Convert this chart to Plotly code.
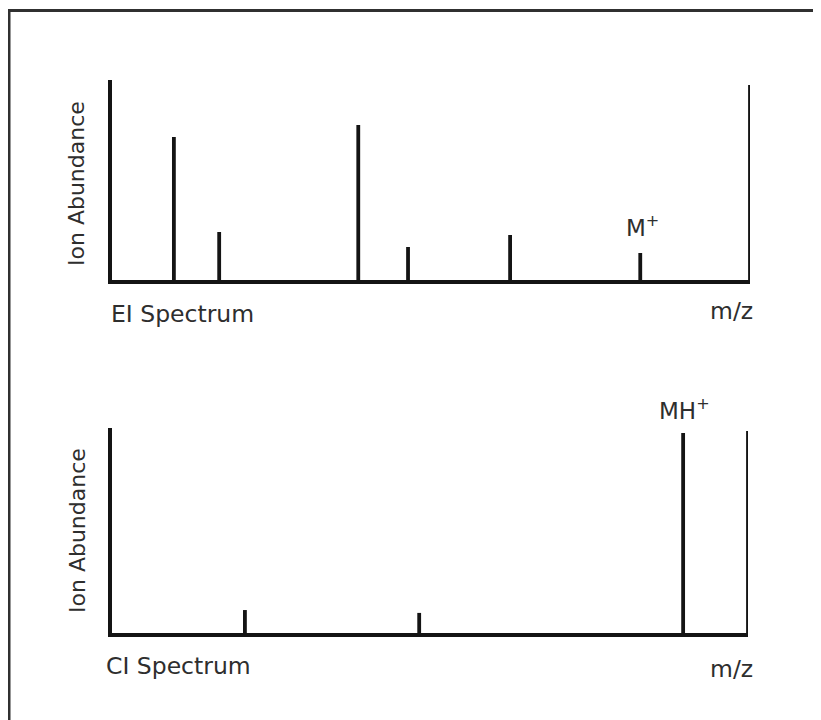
import plotly.graph_objects as go

# page has an 8px body margin; figure sized so it ends at the window edge
OFF = 8
W, H = 821 - OFF, 720 - OFF

# EI spectrum (arbitrary m/z units 0-100, relative abundance 0-100)
ei_mz = [9.7, 16.8, 38.6, 46.4, 62.4, 82.8, 100.0]
ei_abund = [71.5, 24.0, 77.5, 16.5, 22.5, 13.5, 97.5]

# CI spectrum
ci_mz = [20.9, 48.3, 89.8, 100.0]
ci_abund = [11.2, 9.8, 97.6, 98.5]

ei_label = "M<sup>+</sup>"
ei_label_mz = 82.8
ci_label = "MH<sup>+</sup>"
ci_label_mz = 89.8

INK = "#141414"
TXT = "#2e2e2e"
FONT = "DejaVu Sans"


def px(pix):
    return (pix - OFF) / W


def py(pix):
    return 1 - (pix - OFF) / H


def stems(xs, ys):
    X, Y = [], []
    for x, y in zip(xs, ys):
        X += [x, x, None]
        Y += [0, y, None]
    return X, Y


fig = go.Figure()
x1, y1 = stems(ei_mz, ei_abund)
fig.add_trace(go.Scatter(x=x1, y=y1, mode="lines", xaxis="x", yaxis="y",
                         line=dict(color=INK, width=3.8), hoverinfo="skip",
                         showlegend=False))
x2, y2 = stems(ci_mz, ci_abund)
fig.add_trace(go.Scatter(x=x2, y=y2, mode="lines", xaxis="x2", yaxis="y2",
                         line=dict(color=INK, width=3.8), hoverinfo="skip",
                         showlegend=False))

ax_common = dict(range=[0, 100], showgrid=False, zeroline=False,
                 showticklabels=False, ticks="", showline=True,
                 linecolor=INK, linewidth=4, fixedrange=True)

fig.update_layout(
    width=W, height=H,
    margin=dict(l=0, r=0, t=0, b=0),
    paper_bgcolor="white", plot_bgcolor="white",
    font=dict(family=FONT, color=TXT, size=23),
    xaxis=dict(domain=[px(112), px(750)], anchor="y", **ax_common),
    yaxis=dict(domain=[py(280), py(80)], anchor="x", **ax_common),
    xaxis2=dict(domain=[px(112), px(748)], anchor="y2", **ax_common),
    yaxis2=dict(domain=[py(633), py(428)], anchor="x2", **ax_common),
    showlegend=False,
)

ann = []
# y-axis titles
ann.append(dict(text="Ion Abundance", x=px(77), y=py(184), textangle=-90,
                font=dict(family=FONT, size=22, color=TXT)))
ann.append(dict(text="Ion Abundance", x=px(77), y=py(531), textangle=-90,
                font=dict(family=FONT, size=22, color=TXT)))
# spectrum names
ann.append(dict(text="EI Spectrum", x=px(109), y=py(314), xanchor="left",
                font=dict(family=FONT, size=23.5, color=TXT)))
ann.append(dict(text="CI Spectrum", x=px(104), y=py(666), xanchor="left",
                font=dict(family=FONT, size=23.5, color=TXT)))
# m/z labels
ann.append(dict(text="m/z", x=px(731), y=py(311),
                font=dict(family=FONT, size=23.5, color=TXT)))
ann.append(dict(text="m/z", x=px(731), y=py(669),
                font=dict(family=FONT, size=23.5, color=TXT)))
for a in ann:
    a.update(xref="paper", yref="paper", showarrow=False)
    a.setdefault("xanchor", "center")
    a.setdefault("yanchor", "middle")

# ion labels, positioned in data coordinates
ann.append(dict(text=ei_label, x=ei_label_mz, y=py(226), xref="x", yref="paper",
                showarrow=False, xanchor="center", yanchor="middle", xshift=2,
                font=dict(family=FONT, size=23, color=TXT)))
ann.append(dict(text=ci_label, x=ci_label_mz, y=py(409), xref="x2", yref="paper",
                showarrow=False, xanchor="center", yanchor="middle", xshift=1,
                font=dict(family=FONT, size=23, color=TXT)))
fig.update_layout(annotations=ann)

# outer frame (top and left edges)
fig.add_shape(type="line", xref="paper", yref="paper", x0=px(7), x1=1.02,
              y0=py(10.5), y1=py(10.5), line=dict(color="#303030", width=3))
fig.add_shape(type="line", xref="paper", yref="paper", x0=px(9), x1=px(9),
              y0=py(9), y1=-0.02, line=dict(color="#303030", width=3))

fig.write_html("out.html", config={"displayModeBar": False})
